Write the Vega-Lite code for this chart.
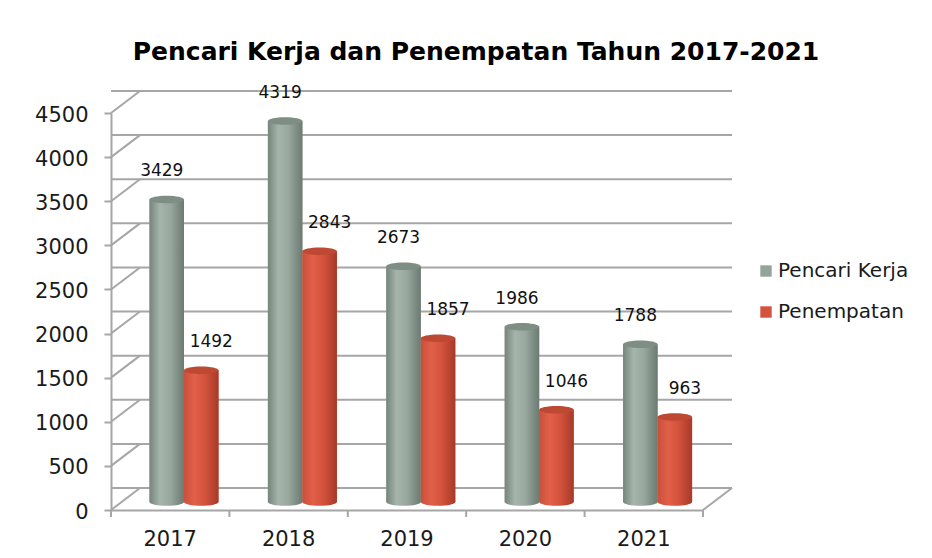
{
  "$schema": "https://vega.github.io/schema/vega-lite/v6.json",
  "width": 592,
  "height": 397,
  "autosize": {"type": "none"},
  "padding": {"left": 111, "top": 113, "right": 229, "bottom": 48},
  "background": "white",
  "config": {"view": {"stroke": null}, "font": "DejaVu Sans"},
  "title": {
    "text": "Pencari Kerja dan Penempatan Tahun 2017-2021",
    "font": "DejaVu Sans",
    "fontSize": 25,
    "fontWeight": "bold",
    "color": "#000000",
    "anchor": "middle",
    "dx": 69,
    "offset": -1,
    "baseline": "alphabetic"
  },
  "datasets": {
    "bars": [
      {"year": "2017", "series": "Pencari Kerja", "value": 3429},
      {"year": "2017", "series": "Penempatan", "value": 1492},
      {"year": "2018", "series": "Pencari Kerja", "value": 4319},
      {"year": "2018", "series": "Penempatan", "value": 2843},
      {"year": "2019", "series": "Pencari Kerja", "value": 2673},
      {"year": "2019", "series": "Penempatan", "value": 1857},
      {"year": "2020", "series": "Pencari Kerja", "value": 1986},
      {"year": "2020", "series": "Penempatan", "value": 1046},
      {"year": "2021", "series": "Pencari Kerja", "value": 1788},
      {"year": "2021", "series": "Penempatan", "value": 963}
    ],
    "grid": [
      {"v": 0}, {"v": 500}, {"v": 1000}, {"v": 1500}, {"v": 2000},
      {"v": 2500}, {"v": 3000}, {"v": 3500}, {"v": 4000}, {"v": 4500}
    ]
  },
  "layer": [
    {
      "data": {"name": "grid"},
      "mark": {"type": "rule", "color": "#a6a6a6", "strokeWidth": 2, "xOffset": 29, "x2Offset": 29, "yOffset": -22, "clip": false},
      "encoding": {
        "y": {
          "field": "v", "type": "quantitative", "title": null,
          "scale": {"domain": [0, 4500], "nice": false, "zero": true},
          "axis": {
            "values": [0, 500, 1000, 1500, 2000, 2500, 3000, 3500, 4000, 4500],
            "format": "d",
            "title": null, "grid": false,
            "domainColor": "#a6a6a6", "domainWidth": 2,
            "tickColor": "#a6a6a6", "tickWidth": 2, "tickSize": 7,
            "labelFontSize": 21, "labelColor": "#1a1a1a", "labelPadding": 16,
            "labelOffset": 2,
            "labelFont": "DejaVu Sans"
          }
        }
      }
    },
    {
      "data": {"name": "grid"},
      "mark": {"type": "rule", "color": "#a6a6a6", "strokeWidth": 2, "xOffset": -59.2, "x2Offset": -30.2, "y2Offset": -22, "clip": false},
      "encoding": {
        "x": {"datum": "2017", "type": "nominal", "title": null},
        "x2": {"datum": "2017"},
        "y": {"field": "v", "type": "quantitative", "title": null},
        "y2": {"field": "v"}
      }
    },
    {
      "data": {"name": "grid"},
      "transform": [{"filter": "datum.v === 0"}],
      "mark": {"type": "rule", "color": "#a6a6a6", "strokeWidth": 2, "xOffset": 59.2, "x2Offset": 88.2, "y2Offset": -22, "clip": false},
      "encoding": {
        "x": {"datum": "2021", "type": "nominal", "title": null},
        "x2": {"datum": "2021"},
        "y": {"field": "v", "type": "quantitative", "title": null},
        "y2": {"field": "v"}
      }
    },
    {
      "data": {"name": "grid"},
      "transform": [{"filter": "datum.v === 0"}],
      "mark": {"type": "rule", "color": "#a6a6a6", "strokeWidth": 2, "xOffset": 59.2, "y2Offset": 7, "clip": false},
      "encoding": {
        "x": {"datum": "2021", "type": "nominal", "title": null},
        "y": {"field": "v", "type": "quantitative", "title": null},
        "y2": {"field": "v"}
      }
    },
    {
      "data": {"name": "bars"},
      "transform": [{"filter": "datum.series === 'Pencari Kerja'"}],
      "mark": {"type": "rule", "color": "#a6a6a6", "strokeWidth": 2, "xOffset": -59.2, "y2Offset": 7, "clip": false},
      "encoding": {
        "x": {"field": "year", "type": "nominal", "title": null},
        "y": {"datum": 0, "type": "quantitative", "title": null},
        "y2": {"datum": 0}
      }
    },
    {
      "data": {"name": "bars"},
      "mark": {"type": "point", "filled": true, "opacity": 1, "size": 1190, "shape": "M-1,0A1,0.22,0,1,1,1,0A1,0.22,0,1,1,-1,0Z", "yOffset": -8, "strokeWidth": 0},
      "encoding": {
        "x": {"field": "year", "type": "nominal", "title": null},
        "xOffset": {"field": "series", "type": "nominal"},
        "y": {"datum": 0, "type": "quantitative", "title": null},
        "fill": {
          "condition": {"test": "datum.series === 'Penempatan'", "value": {"gradient": "linear", "x1": 0, "y1": 0, "x2": 1, "y2": 0, "stops": [{"offset": 0, "color": "#c9503a"}, {"offset": 0.3, "color": "#e25f49"}, {"offset": 0.6, "color": "#d4533d"}, {"offset": 1, "color": "#a63a28"}]}},
          "value": {"gradient": "linear", "x1": 0, "y1": 0, "x2": 1, "y2": 0, "stops": [{"offset": 0, "color": "#76857c"}, {"offset": 0.3, "color": "#a6b5ab"}, {"offset": 0.6, "color": "#98a89e"}, {"offset": 1, "color": "#6c7a71"}]}
        }
      }
    },
    {
      "data": {"name": "bars"},
      "mark": {"type": "bar", "yOffset": -8, "y2Offset": -8},
      "encoding": {
        "x": {
          "field": "year", "type": "nominal", "title": null,
          "scale": {"type": "band", "paddingInner": 0, "paddingOuter": 0, "domain": ["2017", "2018", "2019", "2020", "2021"]},
          "axis": {
            "title": null, "labelAngle": 0, "labelAlign": "center", "labelOffset": 0,
            "domainColor": "#a6a6a6", "domainWidth": 2,
            "ticks": true, "tickOpacity": 0, "tickSize": 7,
            "labelFontSize": 21, "labelColor": "#1a1a1a", "labelPadding": 22,
            "labelFont": "DejaVu Sans"
          }
        },
        "xOffset": {
          "field": "series", "type": "nominal",
          "scale": {"domain": ["Pencari Kerja", "Penempatan"], "range": [38.5, 107.5], "paddingInner": 0, "paddingOuter": 0}
        },
        "y": {"field": "value", "type": "quantitative", "title": null},
        "color": {
          "field": "series", "type": "nominal",
          "scale": {"domain": ["Pencari Kerja", "Penempatan"], "range": ["#93a59a", "#d5533d"]},
          "legend": {
            "orient": "none", "legendX": 645, "legendY": 148, "title": null,
            "symbolType": "square", "symbolSize": 130, "symbolStrokeWidth": 0,
            "labelFontSize": 20, "labelColor": "#1a1a1a", "labelFont": "DejaVu Sans",
            "rowPadding": 21, "labelOffset": 2
          }
        }
      }
    },
    {
      "data": {"name": "bars"},
      "mark": {"type": "bar", "yOffset": -8, "y2Offset": -8},
      "encoding": {
        "x": {"field": "year", "type": "nominal", "title": null},
        "xOffset": {"field": "series", "type": "nominal"},
        "y": {"field": "value", "type": "quantitative", "title": null},
        "fill": {
          "condition": {"test": "datum.series === 'Penempatan'", "value": {"gradient": "linear", "x1": 0, "y1": 0, "x2": 1, "y2": 0, "stops": [{"offset": 0, "color": "#c9503a"}, {"offset": 0.3, "color": "#e25f49"}, {"offset": 0.6, "color": "#d4533d"}, {"offset": 1, "color": "#a63a28"}]}},
          "value": {"gradient": "linear", "x1": 0, "y1": 0, "x2": 1, "y2": 0, "stops": [{"offset": 0, "color": "#76857c"}, {"offset": 0.3, "color": "#a6b5ab"}, {"offset": 0.6, "color": "#98a89e"}, {"offset": 1, "color": "#6c7a71"}]}
        }
      }
    },
    {
      "data": {"name": "bars"},
      "mark": {"type": "point", "filled": true, "opacity": 1, "size": 1190, "shape": "M-1,0A1,0.22,0,1,1,1,0A1,0.22,0,1,1,-1,0Z", "yOffset": -8, "strokeWidth": 0},
      "encoding": {
        "x": {"field": "year", "type": "nominal", "title": null},
        "xOffset": {"field": "series", "type": "nominal"},
        "y": {"field": "value", "type": "quantitative", "title": null},
        "fill": {
          "condition": {"test": "datum.series === 'Penempatan'", "value": "#bd4933"},
          "value": "#7f8e85"
        }
      }
    },
    {
      "data": {"name": "bars"},
      "transform": [{"filter": "datum.series === 'Pencari Kerja'"}],
      "mark": {"type": "text", "yOffset": -8, "dx": -5, "dy": -23, "baseline": "alphabetic", "fontSize": 17, "color": "#111111", "font": "DejaVu Sans"},
      "encoding": {
        "x": {"field": "year", "type": "nominal", "title": null},
        "xOffset": {"field": "series", "type": "nominal"},
        "y": {"field": "value", "type": "quantitative", "title": null},
        "text": {"field": "value", "type": "quantitative"}
      }
    },
    {
      "data": {"name": "bars"},
      "transform": [{"filter": "datum.series === 'Penempatan'"}],
      "mark": {"type": "text", "yOffset": -8, "dx": 10, "dy": -23, "baseline": "alphabetic", "fontSize": 17, "color": "#111111", "font": "DejaVu Sans"},
      "encoding": {
        "x": {"field": "year", "type": "nominal", "title": null},
        "xOffset": {"field": "series", "type": "nominal"},
        "y": {"field": "value", "type": "quantitative", "title": null},
        "text": {"field": "value", "type": "quantitative"}
      }
    }
  ]
}
